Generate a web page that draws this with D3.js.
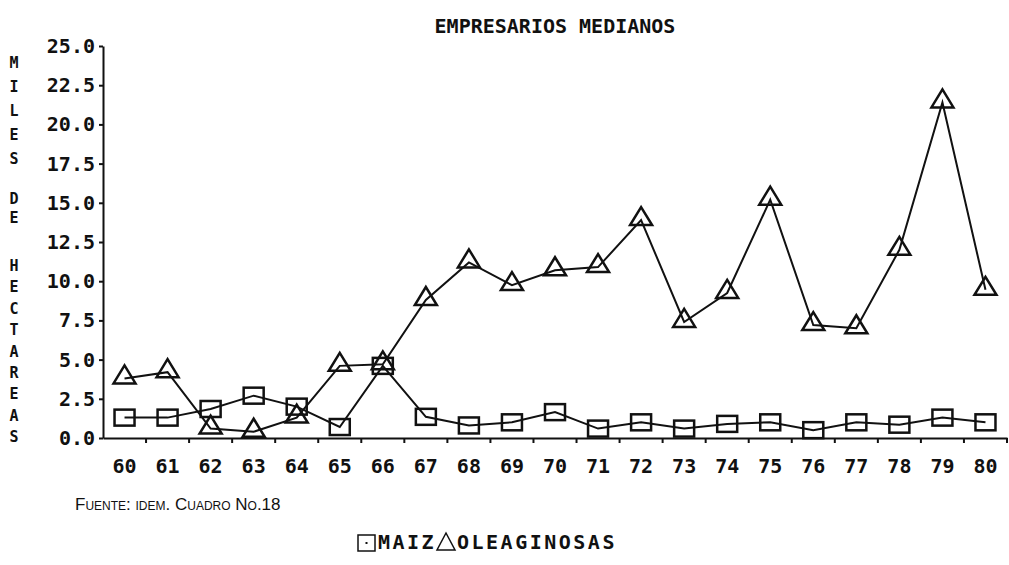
<!DOCTYPE html>
<html>
<head>
<meta charset="utf-8">
<script src="https://cdn.jsdelivr.net/npm/d3@7"></script>
<style>
  html, body { margin: 0; padding: 0; background: #fff; }
  svg { display: block; }
  text { fill: #111; }
</style>
</head>
<body>
<svg id="chart" width="1009" height="565"></svg>
<script>
// Years (1960-1980) shown on the horizontal axis
const years = ["60","61","62","63","64","65","66","67","68","69","70",
               "71","72","73","74","75","76","77","78","79","80"];
// Thousands of hectares, medium-size producers
const maiz = [1.3, 1.3, 1.85, 2.7, 2.0, 0.7, 4.6, 1.35, 0.8, 1.0, 1.65,
              0.6, 1.0, 0.6, 0.9, 1.0, 0.5, 1.0, 0.85, 1.3, 1.0];
const oleaginosas = [3.8, 4.2, 0.6, 0.4, 1.3, 4.6, 4.7, 8.8, 11.2, 9.75, 10.7,
                     10.9, 13.9, 7.4, 9.25, 15.2, 7.2, 7.0, 12.0, 21.4, 9.45];
const yTicks = [0, 2.5, 5, 7.5, 10, 12.5, 15, 17.5, 20, 22.5, 25];
const yLabelWords = ["MILES", "DE", "HECTAREAS"];

const svg = d3.select("#chart");
const ink = "#111";
const mono = "'DejaVu Sans Mono', 'Liberation Mono', monospace";

const plotLeft = 103, plotRight = 1007, plotTop = 46, plotBottom = 438;

const x = d3.scaleBand().domain(years).range([plotLeft, plotRight]).padding(0);
const cx = d => x(d) + x.bandwidth() / 2;
const y = d3.scaleLinear().domain([0, 25]).range([plotBottom, plotTop]);

// Title
svg.append("text")
  .attr("x", 555).attr("y", 33)
  .attr("text-anchor", "middle")
  .attr("font-family", mono).attr("font-weight", "bold")
  .attr("font-size", 20)
  .text("EMPRESARIOS MEDIANOS");

// Y axis
const yAxis = svg.append("g")
  .attr("transform", `translate(${plotLeft},0)`)
  .call(d3.axisLeft(y).tickValues(yTicks).tickSize(4).tickPadding(4)
        .tickFormat(d3.format(".1f")).tickSizeOuter(0));
yAxis.select(".domain").attr("stroke", ink).attr("stroke-width", 2);
yAxis.selectAll(".tick line").attr("stroke", ink).attr("stroke-width", 2);
yAxis.selectAll(".tick text")
  .attr("font-family", mono).attr("font-weight", "bold")
  .attr("font-size", 20).attr("fill", ink);

// X axis: ticks sit on the year boundaries, labels at band centres
const xAxis = svg.append("g")
  .attr("transform", `translate(0,${plotBottom})`)
  .call(d3.axisBottom(x).tickSize(0).tickPadding(21));
xAxis.select(".domain").attr("stroke", ink).attr("stroke-width", 2);
xAxis.selectAll(".tick text")
  .attr("font-family", mono).attr("font-weight", "bold")
  .attr("font-size", 20).attr("fill", ink);
xAxis.selectAll(".boundary")
  .data(years.slice(1).concat(["end"]))
  .join("line")
  .attr("class", "boundary")
  .attr("x1", (d, i) => i < years.length - 1 ? x(d) : plotRight)
  .attr("x2", (d, i) => i < years.length - 1 ? x(d) : plotRight)
  .attr("y1", 0).attr("y2", 5)
  .attr("stroke", ink).attr("stroke-width", 2);

// Vertical axis title, one letter per row
const yLabel = svg.append("g")
  .attr("font-family", mono).attr("font-weight", "bold")
  .attr("font-size", 15).attr("text-anchor", "middle");
const wordStarts = [62, 198, 265];
const wordSteps = [24, 19, 21.4];
yLabelWords.forEach((w, wi) => {
  yLabel.selectAll(null)
    .data(w.split(""))
    .join("text")
    .attr("x", 14)
    .attr("y", (c, i) => wordStarts[wi] + i * wordSteps[wi] + 6)
    .text(c => c);
});

// Series lines
const line = d3.line().x((d, i) => cx(years[i])).y(d => y(d));
[maiz, oleaginosas].forEach(s => {
  svg.append("path")
    .datum(s)
    .attr("d", line)
    .attr("fill", "none")
    .attr("stroke", ink).attr("stroke-width", 2);
});

// Markers
const sqW = 20, sqH = 16;
svg.append("g").selectAll("rect")
  .data(maiz)
  .join("rect")
  .attr("x", (d, i) => cx(years[i]) - sqW / 2)
  .attr("y", d => y(d) - sqH / 2)
  .attr("width", sqW).attr("height", sqH)
  .attr("fill", "none").attr("stroke", ink).attr("stroke-width", 2.5);

const triPath = (px, py) =>
  `M${px},${py - 13} L${px + 11},${py + 5} L${px - 11},${py + 5} Z`;
svg.append("g").selectAll("path")
  .data(oleaginosas)
  .join("path")
  .attr("d", (d, i) => triPath(cx(years[i]), y(d)))
  .attr("fill", "none").attr("stroke", ink).attr("stroke-width", 2.5)
  .attr("stroke-linejoin", "miter");

// Source note
svg.append("text")
  .attr("x", 75).attr("y", 510)
  .attr("font-family", "'Liberation Sans Narrow', 'Liberation Sans', sans-serif")
  .attr("font-size", 17)
  .style("font-variant", "small-caps")
  .text("Fuente: idem. Cuadro No.18");

// Legend
const legend = svg.append("g").attr("transform", "translate(358,549)");
legend.append("rect")
  .attr("x", 0).attr("y", -14).attr("width", 17).attr("height", 16)
  .attr("fill", "none").attr("stroke", ink).attr("stroke-width", 1.5);
legend.append("rect")
  .attr("x", 7.5).attr("y", -7).attr("width", 2).attr("height", 2).attr("fill", ink);
legend.append("text")
  .attr("x", 20).attr("y", 0)
  .attr("font-family", mono).attr("font-weight", "bold").attr("font-size", 20)
  .attr("letter-spacing", 2.5)
  .text("MAIZ");
legend.append("path")
  .attr("d", "M 88,-16 L 97,1 L 79,1 Z")
  .attr("fill", "none").attr("stroke", ink).attr("stroke-width", 1.5);
legend.append("text")
  .attr("x", 99).attr("y", 0)
  .attr("font-family", mono).attr("font-weight", "bold").attr("font-size", 20)
  .attr("letter-spacing", 2.5)
  .text("OLEAGINOSAS");
</script>
</body>
</html>
